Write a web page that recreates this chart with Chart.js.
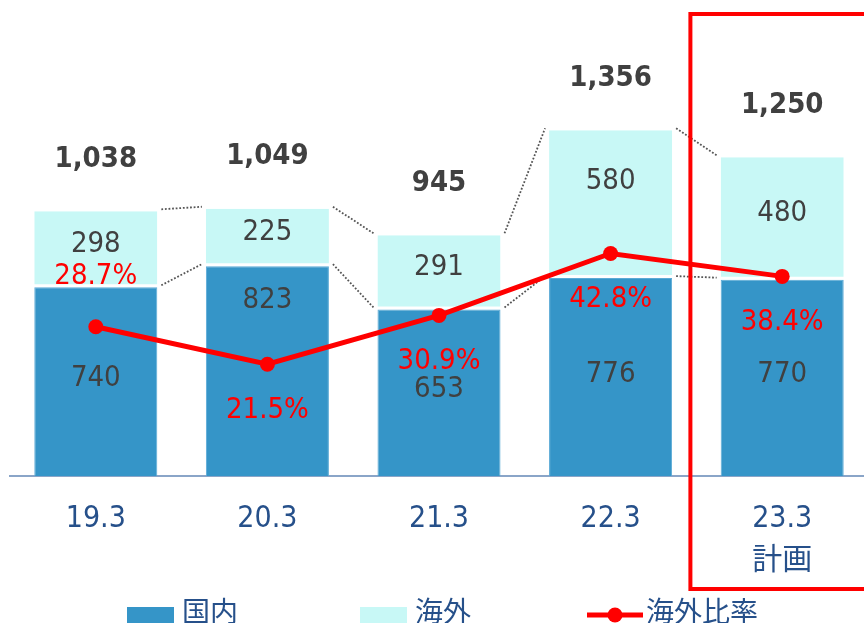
<!DOCTYPE html>
<html lang="ja">
<head>
<meta charset="utf-8">
<script src="https://cdn.jsdelivr.net/npm/chart.js@4.4.1/dist/chart.umd.min.js"></script>
<style>
  html, body { margin: 0; padding: 0; background: #fff; overflow: hidden; }
  #wrap { width: 880px; height: 623px; }
</style>
</head>
<body>
<div id="wrap"><canvas id="chart" width="880" height="623"></canvas></div>
<script>
// data
const categories = ['19.3', '20.3', '21.3', '22.3', ['23.3', '計画']];
const domestic = [740, 823, 653, 776, 770];
const overseas = [298, 225, 291, 580, 480];
const totals = [1038, 1049, 945, 1356, 1250];
const overseasRatio = [28.7, 21.5, 30.9, 42.8, 38.4];

// label placement tweaks (px), kept apart from the data
const domesticNudge = [0, -68, 0, 0, 0];
const overseasNudge = [0, 0, 0, -18, 0];
const ratioSide = [-1, 1, 1, 1, 1];

const NUM_FONT = "'DejaVu Sans Condensed', 'DejaVu Sans', sans-serif";
const JP_FONT = "'Noto Sans CJK JP', sans-serif";
const DOM_COLOR = '#3595c8';
const OVS_COLOR = '#c8f8f6';
const RED = '#ff0000';
const TEXT_GRAY = '#404040';
const NAVY = '#26508a';

const annotate = {
  id: 'annotate',
  beforeDatasetsDraw(chart) {
    // dotted connectors between bar tops
    const ctx = chart.ctx;
    const dom = chart.getDatasetMeta(0).data;
    const ovs = chart.getDatasetMeta(1).data;
    ctx.save();
    ctx.strokeStyle = '#555';
    ctx.lineWidth = 1.8;
    ctx.setLineDash([1.8, 1.8]);
    for (let i = 0; i < dom.length - 1; i++) {
      [dom, ovs].forEach(bars => {
        const a = bars[i], b = bars[i + 1];
        ctx.beginPath();
        ctx.moveTo(a.x + a.width / 2 + 4, a.y - 2);
        ctx.lineTo(b.x - b.width / 2 - 4, b.y - 2);
        ctx.stroke();
      });
    }
    ctx.restore();
  },
  afterDatasetsDraw(chart) {
    const ctx = chart.ctx;
    const dom = chart.getDatasetMeta(0).data;
    const ovs = chart.getDatasetMeta(1).data;
    const pts = chart.getDatasetMeta(2).data;
    ctx.save();
    ctx.textAlign = 'center';
    ctx.textBaseline = 'middle';

    ctx.fillStyle = TEXT_GRAY;
    ctx.font = '29px ' + NUM_FONT;
    dom.forEach((el, i) => {
      ctx.fillText(domestic[i], el.x, (el.y + el.base) / 2 - 3 + domesticNudge[i]);
    });
    ovs.forEach((el, i) => {
      ctx.fillText(overseas[i], el.x, (el.y + el.base) / 2 - 5 + overseasNudge[i]);
    });

    ctx.font = 'bold 29px ' + NUM_FONT;
    ovs.forEach((el, i) => {
      ctx.fillText(totals[i].toLocaleString('en-US'), el.x, el.y - 52);
    });

    ctx.fillStyle = RED;
    ctx.font = '29px ' + NUM_FONT;
    pts.forEach((pt, i) => {
      const dy = ratioSide[i] < 0 ? -50 : 46;
      ctx.fillText(overseasRatio[i].toFixed(1) + '%', pt.x, pt.y + dy);
    });
    ctx.restore();
  },
  afterDraw(chart) {
    const ctx = chart.ctx;
    const x = chart.scales.x;
    ctx.save();
    // highlight frame around the plan year
    ctx.strokeStyle = RED;
    ctx.lineWidth = 4;
    const left = x.getPixelForValue(3.5) - 6;
    ctx.strokeRect(left, 14, chart.width + 10 - left, 575);

    // legend
    const ds = chart.data.datasets;
    const legendX = [127, 360, 587];
    ctx.font = '28px ' + JP_FONT;
    ctx.textBaseline = 'middle';
    ctx.textAlign = 'left';
    [0, 1].forEach(i => {
      ctx.fillStyle = ds[i].backgroundColor;
      ctx.fillRect(legendX[i], 607, 47, 20);
      ctx.fillStyle = NAVY;
      ctx.fillText(ds[i].label, legendX[i] + 55, 611);
    });
    ctx.strokeStyle = RED;
    ctx.lineWidth = 5;
    ctx.beginPath();
    ctx.moveTo(legendX[2], 615);
    ctx.lineTo(legendX[2] + 56, 615);
    ctx.stroke();
    ctx.fillStyle = RED;
    ctx.beginPath();
    ctx.arc(legendX[2] + 28, 615, 7.5, 0, Math.PI * 2);
    ctx.fill();
    ctx.fillStyle = NAVY;
    ctx.fillText(ds[2].label, legendX[2] + 59, 611);
    ctx.restore();
  }
};

new Chart(document.getElementById('chart'), {
  data: {
    labels: categories,
    datasets: [
      {
        type: 'bar',
        label: '国内',
        data: domestic,
        backgroundColor: DOM_COLOR,
        borderColor: '#5aaad6',
        borderWidth: 1,
        order: 1,
      },
      {
        type: 'bar',
        label: '海外',
        data: overseas,
        backgroundColor: OVS_COLOR,
        borderColor: '#ffffff',
        borderWidth: { top: 0, left: 0, right: 0, bottom: 3 },
        borderSkipped: false,
        order: 1,
      },
      {
        type: 'line',
        label: '海外比率',
        data: overseasRatio,
        yAxisID: 'y2',
        borderColor: RED,
        backgroundColor: RED,
        borderWidth: 5,
        pointRadius: 7.5,
        pointBackgroundColor: RED,
        pointBorderWidth: 0,
        order: 0,
      },
    ],
  },
  options: {
    responsive: false,
    animation: false,
    layout: { padding: { top: 17, left: 10, right: 12, bottom: 27 } },
    datasets: { bar: { categoryPercentage: 1, barPercentage: 0.717 } },
    plugins: { legend: { display: false }, tooltip: { enabled: false } },
    scales: {
      x: {
        stacked: true,
        grid: { display: false },
        border: { display: true, color: '#8aa5c8', width: 2 },
        ticks: {
          color: NAVY,
          padding: 14,
          font: { family: NUM_FONT + ", 'Noto Sans CJK JP'", size: 30, lineHeight: 1.4 },
        },
      },
      y: { stacked: true, display: false, min: 0, max: 1800 },
      y2: { display: false, min: 0, max: 88.3 },
    },
  },
  plugins: [annotate],
});
</script>
</body>
</html>
